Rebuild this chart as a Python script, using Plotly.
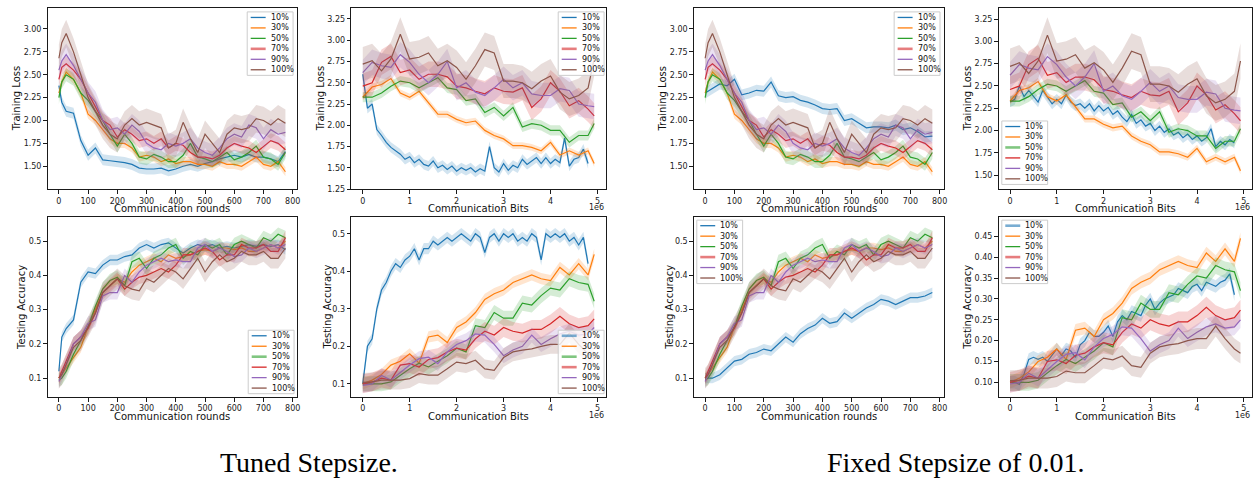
import plotly.graph_objects as go

W, H = 1257, 479

LABELS = ["10%", "30%", "50%", "70%", "90%", "100%"]
COLORS = ["#1f77b4", "#ff7f0e", "#2ca02c", "#d62728", "#9467bd", "#8c564b"]

# ---------------- x sample grids ----------------
ROUNDS = [0, 10, 25, 50, 75, 100, 125, 150, 175, 200, 225, 250, 275, 300, 325, 350,
          375, 400, 425, 450, 475, 500, 525, 550, 575, 600, 625, 650, 675, 700, 725, 750, 775]
BITS_M = [0, 0.2, 0.4, 0.6, 0.8, 1.0, 1.2, 1.4, 1.6, 1.8, 2.0, 2.2, 2.4, 2.6, 2.8, 3.0,
          3.2, 3.4, 3.6, 3.8, 4.0, 4.2, 4.4, 4.6, 4.8, 4.93]
BITS_FINE_M = [0, 0.1, 0.2, 0.3, 0.4, 0.5, 0.6, 0.7, 0.8, 0.9, 1.0, 1.1, 1.2, 1.3, 1.4, 1.5,
               1.6, 1.7, 1.8, 1.9, 2.0, 2.1, 2.2, 2.3, 2.4, 2.5, 2.6, 2.7, 2.8, 2.9, 3.0, 3.1,
               3.2, 3.3, 3.4, 3.5, 3.6, 3.7, 3.8, 3.9, 4.0, 4.1, 4.2, 4.3, 4.4, 4.5, 4.6, 4.7, 4.8]

# ---------------- training loss vs rounds ----------------
R_LOSS_10_TUNED = [2.38, 2.20, 2.10, 2.08, 1.78, 1.62, 1.70, 1.57, 1.56, 1.55, 1.54, 1.52, 1.48,
                   1.47, 1.47, 1.48, 1.45, 1.47, 1.50, 1.52, 1.50, 1.53, 1.55, 1.58, 1.60, 1.62,
                   1.60, 1.63, 1.60, 1.60, 1.58, 1.55, 1.66]
R_LOSS_10_FIXED = [2.30, 2.32, 2.35, 2.40, 2.38, 2.45, 2.28, 2.30, 2.33, 2.32, 2.42, 2.27, 2.25,
                   2.26, 2.22, 2.20, 2.17, 2.13, 2.12, 2.13, 2.00, 2.02, 1.97, 1.92, 1.93, 1.93,
                   1.92, 1.95, 1.90, 1.92, 1.88, 1.82, 1.83]
R_LOSS_30 = [2.30, 2.42, 2.53, 2.45, 2.30, 2.07, 2.00, 1.90, 1.80, 1.75, 1.75, 1.70, 1.60, 1.62,
             1.60, 1.55, 1.58, 1.53, 1.55, 1.55, 1.52, 1.52, 1.50, 1.55, 1.52, 1.52, 1.50, 1.55,
             1.60, 1.52, 1.50, 1.55, 1.44]
R_LOSS_50 = [2.25, 2.42, 2.50, 2.45, 2.30, 2.22, 2.10, 2.00, 1.85, 1.72, 1.85, 1.75, 1.60, 1.58,
             1.63, 1.60, 1.55, 1.55, 1.62, 1.75, 1.60, 1.58, 1.55, 1.60, 1.65, 1.57, 1.60, 1.65,
             1.72, 1.60, 1.58, 1.52, 1.65]
R_LOSS_70 = [2.45, 2.58, 2.62, 2.55, 2.45, 2.30, 2.15, 2.00, 1.95, 1.82, 1.90, 1.85, 1.78, 1.80,
             1.75, 1.80, 1.70, 1.75, 1.73, 1.65, 1.60, 1.60, 1.58, 1.62, 1.70, 1.75, 1.72, 1.70,
             1.65, 1.72, 1.78, 1.75, 1.68]
R_LOSS_90 = [2.55, 2.65, 2.72, 2.60, 2.45, 2.30, 2.20, 2.00, 1.90, 1.92, 1.85, 1.95, 1.88, 1.75,
             1.70, 1.68, 1.75, 1.72, 1.75, 1.80, 1.70, 1.65, 1.62, 1.70, 1.80, 1.85, 1.82, 1.95,
             1.92, 1.80, 1.90, 1.85, 1.87]
R_LOSS_100 = [2.68, 2.85, 2.95, 2.75, 2.50, 2.25, 2.10, 1.95, 1.85, 1.80, 1.95, 2.02, 1.95, 1.98,
              1.95, 1.92, 1.70, 1.75, 1.98, 1.80, 1.65, 1.85, 1.75, 1.65, 1.85, 1.92, 1.90, 1.92,
              2.02, 2.00, 1.95, 2.02, 1.97]

# ---------------- training loss vs bits ----------------
B_LOSS_10_TUNED = [2.60, 2.20, 2.25, 1.95, 1.88, 1.80, 1.74, 1.70, 1.66, 1.60, 1.63, 1.56, 1.60,
                   1.54, 1.52, 1.58, 1.50, 1.53, 1.48, 1.52, 1.46, 1.50, 1.47, 1.50, 1.45, 1.49,
                   1.46, 1.75, 1.50, 1.45, 1.55, 1.47, 1.53, 1.50, 1.60, 1.54, 1.58, 1.62, 1.55,
                   1.62, 1.55, 1.60, 1.56, 1.85, 1.52, 1.60, 1.62, 1.72, 1.55]
B_LOSS_10_FIXED = [2.32, 2.35, 2.50, 2.38, 2.45, 2.38, 2.32, 2.45, 2.38, 2.30, 2.35, 2.30, 2.40,
                   2.32, 2.28, 2.30, 2.25, 2.30, 2.22, 2.28, 2.22, 2.26, 2.18, 2.22, 2.15, 2.10,
                   2.18, 2.08, 2.12, 2.05, 2.08, 2.00, 2.05, 1.98, 2.02, 1.95, 1.98, 1.92, 1.96,
                   1.90, 1.94, 1.88, 1.92, 2.02, 1.82, 1.88, 1.84, 1.90, 1.86]
B_LOSS_30 = [2.33, 2.45, 2.48, 2.55, 2.38, 2.33, 2.40, 2.27, 2.13, 2.13, 2.07, 2.03, 2.05, 1.94,
             1.88, 1.84, 1.76, 1.76, 1.74, 1.70, 1.80, 1.65, 1.70, 1.65, 1.70, 1.55]
B_LOSS_50 = [2.33, 2.33, 2.38, 2.46, 2.52, 2.50, 2.44, 2.50, 2.56, 2.44, 2.42, 2.29, 2.31, 2.15,
             2.21, 2.11, 2.21, 1.98, 2.02, 2.00, 1.94, 1.94, 1.80, 1.88, 1.88, 2.02]
B_LOSS_70 = [2.46, 2.50, 2.74, 2.81, 2.62, 2.65, 2.54, 2.60, 2.60, 2.57, 2.46, 2.44, 2.40, 2.37,
             2.44, 2.40, 2.39, 2.44, 2.21, 2.31, 2.50, 2.40, 2.23, 2.29, 2.19, 2.11]
B_LOSS_90 = [2.62, 2.74, 2.70, 2.68, 2.83, 2.74, 2.60, 2.50, 2.60, 2.75, 2.44, 2.50, 2.39, 2.35,
             2.44, 2.54, 2.44, 2.50, 2.37, 2.35, 2.35, 2.43, 2.41, 2.25, 2.23, 2.22]
B_LOSS_100 = [2.72, 2.76, 2.64, 2.78, 3.07, 2.78, 2.80, 2.85, 2.70, 2.76, 2.68, 2.54, 2.70, 2.89,
              2.85, 2.52, 2.52, 2.50, 2.43, 2.52, 2.58, 2.39, 2.31, 2.35, 2.44, 2.78]

# ---------------- testing accuracy vs rounds ----------------
R_ACC_10_TUNED = [0.12, 0.22, 0.245, 0.27, 0.38, 0.41, 0.405, 0.43, 0.445, 0.445, 0.455, 0.46,
                  0.48, 0.49, 0.48, 0.49, 0.495, 0.48, 0.465, 0.48, 0.49, 0.485, 0.49, 0.48,
                  0.485, 0.48, 0.485, 0.49, 0.485, 0.49, 0.485, 0.49, 0.475]
R_ACC_10_FIXED = [0.10, 0.10, 0.10, 0.11, 0.13, 0.15, 0.155, 0.17, 0.175, 0.185, 0.18, 0.20, 0.22,
                  0.205, 0.23, 0.245, 0.255, 0.275, 0.26, 0.265, 0.29, 0.275, 0.29, 0.305, 0.315,
                  0.33, 0.325, 0.315, 0.325, 0.335, 0.335, 0.34, 0.35]
R_ACC_30 = [0.10, 0.11, 0.13, 0.16, 0.19, 0.25, 0.30, 0.35, 0.37, 0.39, 0.38, 0.41, 0.43, 0.44,
            0.45, 0.44, 0.46, 0.45, 0.455, 0.46, 0.47, 0.475, 0.47, 0.48, 0.48, 0.475, 0.48, 0.47,
            0.47, 0.48, 0.49, 0.48, 0.50]
R_ACC_50 = [0.095, 0.10, 0.12, 0.17, 0.21, 0.25, 0.31, 0.36, 0.385, 0.395, 0.37, 0.44, 0.45, 0.42,
            0.45, 0.46, 0.48, 0.49, 0.45, 0.47, 0.46, 0.49, 0.48, 0.49, 0.46, 0.49, 0.50, 0.49,
            0.48, 0.51, 0.50, 0.52, 0.51]
R_ACC_70 = [0.10, 0.12, 0.15, 0.20, 0.22, 0.245, 0.29, 0.35, 0.37, 0.39, 0.36, 0.38, 0.395, 0.40,
            0.41, 0.42, 0.41, 0.43, 0.46, 0.46, 0.47, 0.48, 0.47, 0.445, 0.46, 0.46, 0.49, 0.48,
            0.48, 0.49, 0.47, 0.47, 0.51]
R_ACC_90 = [0.09, 0.11, 0.14, 0.20, 0.22, 0.26, 0.27, 0.34, 0.35, 0.35, 0.40, 0.38, 0.41, 0.43,
            0.44, 0.45, 0.44, 0.445, 0.44, 0.44, 0.48, 0.49, 0.47, 0.48, 0.47, 0.455, 0.46, 0.48,
            0.47, 0.48, 0.49, 0.48, 0.49]
R_ACC_100 = [0.10, 0.11, 0.14, 0.19, 0.21, 0.25, 0.29, 0.35, 0.37, 0.39, 0.37, 0.36, 0.355, 0.39,
             0.38, 0.40, 0.42, 0.41, 0.39, 0.42, 0.45, 0.41, 0.44, 0.46, 0.44, 0.45, 0.47, 0.46,
             0.46, 0.47, 0.45, 0.45, 0.48]

# ---------------- testing accuracy vs bits ----------------
B_ACC_10_TUNED = [0.10, 0.20, 0.22, 0.30, 0.35, 0.37, 0.40, 0.42, 0.41, 0.43, 0.44, 0.46, 0.43,
                  0.46, 0.46, 0.48, 0.47, 0.48, 0.49, 0.48, 0.49, 0.50, 0.49, 0.48, 0.50, 0.49,
                  0.45, 0.49, 0.50, 0.48, 0.50, 0.49, 0.50, 0.48, 0.49, 0.48, 0.50, 0.49, 0.43,
                  0.50, 0.49, 0.50, 0.49, 0.50, 0.48, 0.49, 0.47, 0.49, 0.42]
B_ACC_10_FIXED = [0.10, 0.10, 0.095, 0.12, 0.155, 0.16, 0.155, 0.16, 0.15, 0.165, 0.18, 0.165,
                  0.18, 0.175, 0.16, 0.19, 0.20, 0.22, 0.21, 0.21, 0.22, 0.235, 0.21, 0.245, 0.26,
                  0.25, 0.27, 0.265, 0.26, 0.285, 0.30, 0.275, 0.29, 0.30, 0.305, 0.31, 0.325,
                  0.32, 0.315, 0.33, 0.335, 0.32, 0.34, 0.335, 0.33, 0.34, 0.345, 0.36, 0.31]
B_ACC_30 = [0.10, 0.11, 0.125, 0.15, 0.16, 0.18, 0.155, 0.225, 0.23, 0.21, 0.25, 0.265, 0.29,
            0.325, 0.34, 0.35, 0.37, 0.38, 0.39, 0.38, 0.375, 0.41, 0.39, 0.42, 0.39, 0.445]
B_ACC_50 = [0.10, 0.10, 0.10, 0.105, 0.123, 0.14, 0.155, 0.145, 0.16, 0.175, 0.195, 0.185, 0.255,
            0.25, 0.29, 0.275, 0.275, 0.315, 0.31, 0.335, 0.355, 0.35, 0.38, 0.37, 0.365, 0.32]
B_ACC_70 = [0.10, 0.105, 0.115, 0.11, 0.15, 0.154, 0.145, 0.165, 0.17, 0.185, 0.195, 0.19, 0.22,
            0.24, 0.23, 0.25, 0.24, 0.235, 0.245, 0.245, 0.26, 0.28, 0.26, 0.25, 0.255, 0.273]
B_ACC_90 = [0.096, 0.10, 0.122, 0.11, 0.13, 0.15, 0.167, 0.171, 0.154, 0.185, 0.205, 0.215, 0.233,
            0.23, 0.205, 0.175, 0.19, 0.20, 0.23, 0.205, 0.22, 0.233, 0.24, 0.23, 0.233, 0.25]
B_ACC_100 = [0.104, 0.105, 0.11, 0.11, 0.11, 0.114, 0.127, 0.123, 0.123, 0.14, 0.158, 0.154, 0.163,
             0.14, 0.136, 0.17, 0.185, 0.19, 0.193, 0.20, 0.205, 0.205, 0.235, 0.205, 0.18, 0.17]

# band half-widths (std) per series: 10%, 30%, 50%, 70%, 90%, 100%
SPREAD_R_LOSS = [0.06, 0.05, 0.07, 0.08, 0.12, 0.15]
SPREAD_B_LOSS = [0.06, 0.04, 0.06, 0.15, 0.15, 0.20]
SPREAD_R_ACC = [0.015, 0.015, 0.02, 0.02, 0.02, 0.03]
SPREAD_B_ACC = [0.015, 0.015, 0.02, 0.025, 0.02, 0.025]

ROUND_TICKS = [0, 100, 200, 300, 400, 500, 600, 700, 800]
BIT_TICKS = [0, 1, 2, 3, 4, 5]


def fx(px):
    return px / W


def fy(py):
    return 1 - py / H


def rgba(hx, a):
    h = hx.lstrip("#")
    return "rgba(%d,%d,%d,%s)" % (int(h[0:2], 16), int(h[2:4], 16), int(h[4:6], 16), a)


RX = ROUNDS
BX = [b * 1e6 for b in BITS_M]
BXF = [b * 1e6 for b in BITS_FINE_M]

loss_ticks_a = [1.5, 1.75, 2.0, 2.25, 2.5, 2.75, 3.0]
loss_ticks_b = [1.25, 1.5, 1.75, 2.0, 2.25, 2.5, 2.75, 3.0, 3.25]
loss_ticks_c = [1.5, 1.75, 2.0, 2.25, 2.5, 2.75, 3.0, 3.25]
acc_ticks_a = [0.1, 0.2, 0.3, 0.4, 0.5]
acc_ticks_b = [0.10, 0.15, 0.20, 0.25, 0.30, 0.35, 0.40, 0.45]

panels = [
    dict(box=(47.7, 297.7, 8, 191), kind="r",
         ys=[(RX, R_LOSS_10_TUNED), (RX, R_LOSS_30), (RX, R_LOSS_50), (RX, R_LOSS_70), (RX, R_LOSS_90), (RX, R_LOSS_100)],
         sp=SPREAD_R_LOSS, yr=[1.247, 3.23], yt=loss_ticks_a, yf="%.2f", yl="Training Loss", ylx=16.7,
         xl="Communication rounds", xly=210, leg=(248, 12), thick=[3]),
    dict(box=(352.3, 607.7, 8, 191), kind="b",
         ys=[(BXF, B_LOSS_10_TUNED), (BX, B_LOSS_30), (BX, B_LOSS_50), (BX, B_LOSS_70), (BX, B_LOSS_90), (BX, B_LOSS_100)],
         sp=SPREAD_B_LOSS, yr=[1.246, 3.38], yt=loss_ticks_b, yf="%.2f", yl="Training Loss", ylx=321.7,
         xl="Communication Bits", xly=210, leg=(560, 12), thick=[3], off=209),
    dict(box=(47.7, 297.7, 219, 400.7), kind="r",
         ys=[(RX, R_ACC_10_TUNED), (RX, R_ACC_30), (RX, R_ACC_50), (RX, R_ACC_70), (RX, R_ACC_90), (RX, R_ACC_100)],
         sp=SPREAD_R_ACC, yr=[0.044, 0.570], yt=acc_ticks_a, yf="%.1f", yl="Testing Accuracy", ylx=21.7,
         xl="Communication rounds", xly=420, leg=(249, 333), thick=[2]),
    dict(box=(352.3, 607.7, 219, 400.7), kind="b",
         ys=[(BXF, B_ACC_10_TUNED), (BX, B_ACC_30), (BX, B_ACC_50), (BX, B_ACC_70), (BX, B_ACC_90), (BX, B_ACC_100)],
         sp=SPREAD_B_ACC, yr=[0.064, 0.544], yt=acc_ticks_a, yf="%.1f", yl="Testing Accuracy", ylx=328.3,
         xl="Communication Bits", xly=420, leg=(560, 333), thick=[0, 2, 3], off=419),
    dict(box=(696, 946.7, 8, 191), kind="r",
         ys=[(RX, R_LOSS_10_FIXED), (RX, R_LOSS_30), (RX, R_LOSS_50), (RX, R_LOSS_70), (RX, R_LOSS_90), (RX, R_LOSS_100)],
         sp=SPREAD_R_LOSS, yr=[1.247, 3.23], yt=loss_ticks_a, yf="%.2f", yl="Training Loss", ylx=665,
         xl="Communication rounds", xly=210, leg=(897, 12), thick=[3]),
    dict(box=(1001.7, 1256, 8, 191), kind="b",
         ys=[(BXF, B_LOSS_10_FIXED), (BX, B_LOSS_30), (BX, B_LOSS_50), (BX, B_LOSS_70), (BX, B_LOSS_90), (BX, B_LOSS_100)],
         sp=SPREAD_B_LOSS, yr=[1.34, 3.375], yt=loss_ticks_c, yf="%.2f", yl="Training Loss", ylx=970.7,
         xl="Communication Bits", xly=210, leg=(1005, 122), thick=[2], off=209),
    dict(box=(696, 946.7, 219, 400.7), kind="r",
         ys=[(RX, R_ACC_10_FIXED), (RX, R_ACC_30), (RX, R_ACC_50), (RX, R_ACC_70), (RX, R_ACC_90), (RX, R_ACC_100)],
         sp=SPREAD_R_ACC, yr=[0.044, 0.570], yt=acc_ticks_a, yf="%.1f", yl="Testing Accuracy", ylx=671.7,
         xl="Communication rounds", xly=420, leg=(699, 222), thick=[3]),
    dict(box=(1001.7, 1256, 219, 400.7), kind="b",
         ys=[(BXF, B_ACC_10_FIXED), (BX, B_ACC_30), (BX, B_ACC_50), (BX, B_ACC_70), (BX, B_ACC_90), (BX, B_ACC_100)],
         sp=SPREAD_B_ACC, yr=[0.064, 0.496], yt=acc_ticks_b, yf="%.2f", yl="Testing Accuracy", ylx=970.7,
         xl="Communication Bits", xly=420, leg=(1005, 222), thick=[0, 3], off=419),
]

FONT = "DejaVu Sans"
annotations = []
shapes = []
layout_axes = {}

fig = go.Figure()

for i, p in enumerate(panels, start=1):
    sfx = "" if i == 1 else str(i)
    xa, ya = "x" + sfx, "y" + sfx
    L, R, T, B = p["box"]
    for k, (xs, ys) in enumerate(p["ys"]):
        s = p["sp"][k]
        up = [v + s for v in ys]
        lo = [v - s for v in ys]
        fig.add_trace(go.Scatter(x=list(xs) + list(xs)[::-1], y=up + lo[::-1], fill="toself",
                                 fillcolor=rgba(COLORS[k], 0.2), line=dict(width=0),
                                 mode="lines", hoverinfo="skip", showlegend=False,
                                 xaxis=xa, yaxis=ya))
        fig.add_trace(go.Scatter(x=xs, y=ys, mode="lines", name=LABELS[k],
                                 line=dict(color=COLORS[k], width=1.2),
                                 showlegend=False, xaxis=xa, yaxis=ya))
    if p["kind"] == "r":
        xr = [-38.75, 813.75]
        tv = ROUND_TICKS
        tt = [str(t) for t in ROUND_TICKS]
    else:
        xr = [-0.2465e6, 5.1765e6]
        tv = [t * 1e6 for t in BIT_TICKS]
        tt = [str(t) for t in BIT_TICKS]
    common = dict(showline=True, mirror=True, linecolor="#1a1a1a", linewidth=1,
                  ticks="outside", ticklen=3.5, tickwidth=1, tickcolor="#1a1a1a",
                  showgrid=False, zeroline=False,
                  tickfont=dict(family=FONT, size=8, color="#222222"))
    layout_axes["xaxis" + sfx] = dict(domain=[fx(L), fx(R)], anchor=ya, range=xr,
                                      tickmode="array", tickvals=tv, ticktext=tt, **common)
    layout_axes["yaxis" + sfx] = dict(domain=[fy(B), fy(T)], anchor=xa, range=p["yr"],
                                      tickmode="array", tickvals=p["yt"],
                                      ticktext=[p["yf"] % v for v in p["yt"]], **common)
    annotations.append(dict(x=fx((L + R) / 2), y=fy(p["xly"]), xref="paper", yref="paper",
                            text=p["xl"], showarrow=False, xanchor="center", yanchor="middle",
                            font=dict(family=FONT, size=10, color="#111111")))
    annotations.append(dict(x=fx(p["ylx"]), y=fy((T + B) / 2), xref="paper", yref="paper",
                            text=p["yl"], showarrow=False, textangle=-90,
                            xanchor="center", yanchor="middle",
                            font=dict(family=FONT, size=10, color="#111111")))
    if "off" in p:
        annotations.append(dict(x=fx(R), y=fy(p["off"]), xref="paper", yref="paper",
                                text="1e6", showarrow=False, xanchor="right", yanchor="middle",
                                font=dict(family=FONT, size=8, color="#222222")))
    lx, ly = p["leg"]
    shapes.append(dict(type="rect", xref="paper", yref="paper",
                       x0=fx(lx), x1=fx(lx + 46), y0=fy(ly + 64), y1=fy(ly),
                       line=dict(color="#cccccc", width=1), fillcolor="rgba(255,255,255,0.8)",
                       layer="above"))
    for k, lab in enumerate(LABELS):
        yy = ly + 5.6 + k * 10.55
        thick = k in p["thick"]
        shapes.append(dict(type="line", xref="paper", yref="paper",
                           x0=fx(lx + 3.5), x1=fx(lx + 18.5), y0=fy(yy), y1=fy(yy),
                           line=dict(color=rgba(COLORS[k], 0.6) if thick else COLORS[k],
                                     width=2.6 if thick else 1.3),
                           layer="above"))
        annotations.append(dict(x=fx(lx + 21.5), y=fy(yy), xref="paper", yref="paper",
                                text=lab, showarrow=False, xanchor="left", yanchor="middle",
                                font=dict(family=FONT, size=8, color="#111111")))

annotations.append(dict(x=fx(310), y=fy(466), xref="paper", yref="paper",
                        text="Tuned Stepsize.", showarrow=False, xanchor="center", yanchor="middle",
                        font=dict(family="Liberation Serif", size=28, color="#000000")))
annotations.append(dict(x=fx(959), y=fy(466), xref="paper", yref="paper",
                        text="Fixed Stepsize of 0.01.", showarrow=False, xanchor="center",
                        yanchor="middle",
                        font=dict(family="Liberation Serif", size=28, color="#000000")))

fig.update_layout(width=W, height=H, margin=dict(l=0, r=0, t=0, b=0),
                  paper_bgcolor="white", plot_bgcolor="white", showlegend=False,
                  annotations=annotations, shapes=shapes, **layout_axes)

fig.write_html("out.html", config={"displayModeBar": False},
               post_script="document.body.style.margin='0';document.body.style.overflow='hidden';")
